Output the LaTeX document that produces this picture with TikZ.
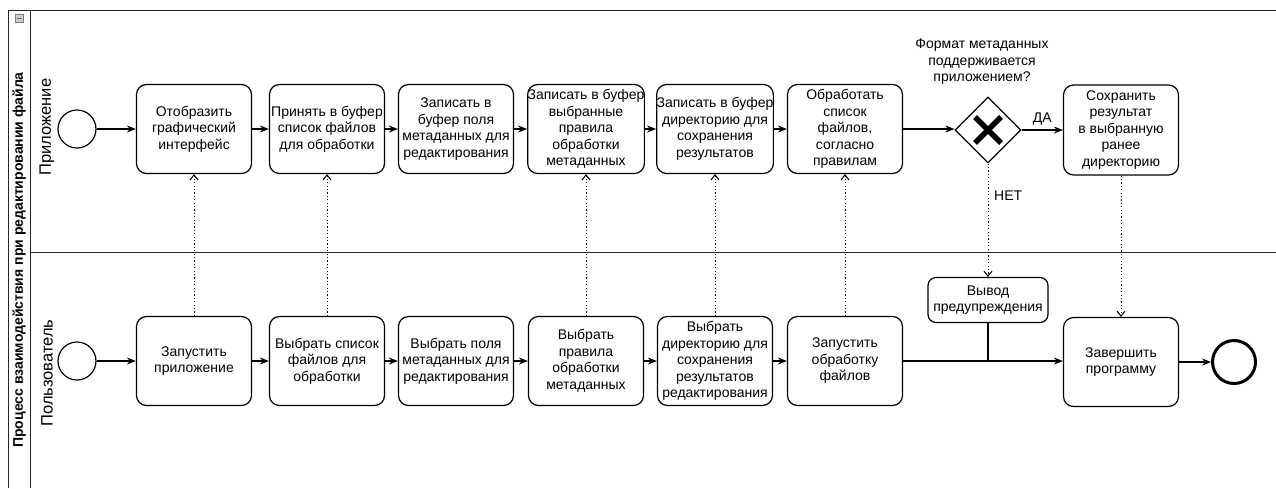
\documentclass[tikz,border=0pt]{standalone}
\usepackage{fontspec}
\setmainfont{Liberation Sans}
\usetikzlibrary{arrows.meta,shapes.geometric}
\begin{document}
\begin{tikzpicture}[x=1pt,y=-1pt,
  txt/.style={font=\fontsize{14}{16.5}\selectfont, align=center, inner sep=0pt},
  task/.style={txt, draw, line width=1.2pt, rounded corners=10pt, minimum width=115pt, minimum height=89pt},
  smalltask/.style={txt, draw, line width=1.2pt, rounded corners=8pt, minimum width=120pt, minimum height=45pt},
  startev/.style={draw, circle, line width=1.2pt, minimum size=38pt, inner sep=0pt},
  endev/.style={draw, circle, line width=3pt, minimum size=43pt, inner sep=0pt},
  gate/.style={draw, diamond, aspect=1, line width=1.2pt, minimum width=66pt, minimum height=66pt, inner sep=0pt},
  flow/.style={line width=1.2pt, -{Stealth[length=9pt,width=7pt]}},
  msg/.style={line width=1pt, dash pattern=on 1.2pt off 2.2pt, -{Straight Barb[length=5pt,width=8pt]}},
  lane/.style={line width=1pt, draw=black!85},
  lanelabel/.style={rotate=90, font=\fontsize{16.5}{19}\selectfont, inner sep=0pt},
]
\useasboundingbox (0,0) rectangle (1276,488);

% pool frame
\draw[lane] (8,488) -- (8,10) -- (1276,10);
\draw[lane] (30,10) -- (30,488);
\draw[lane] (30,252) -- (1276,252);
\node[draw=black!50, fill=black!20, minimum size=8pt, inner sep=0pt, line width=0.6pt] (icon) at (19,18) {};
\draw[black!60, line width=1pt] ([xshift=-2.5pt]icon.center) -- ([xshift=2.5pt]icon.center);
\node[rotate=90, font=\bfseries\fontsize{14}{16}\selectfont, inner sep=0pt] (pooltitle) at (19,260) {Процесс взаимодействия при редактировании файла};
\node[lanelabel] (lane1) at (47,127) {Приложение};
\node[lanelabel] (lane2) at (47,373) {Пользователь};

% top lane
\node[startev] (s1) at (77,129) {};
\node[task] (t1) at (194,129) {Отобразить\\графический\\интерфейс};
\node[task] (t2) at (327,129) {Принять в буфер\\список файлов\\для обработки};
\node[task] (t3) at (456,129) {Записать в\\буфер поля\\метаданных для\\редактирования};
\node[task] (t4) at (586,129) {Записать в буфер\\выбранные\\правила\\обработки\\метаданных};
\node[task] (t5) at (715,129) {Записать в буфер\\директорию для\\сохранения\\результатов};
\node[task] (t6) at (845,129) {Обработать\\список\\файлов,\\согласно\\правилам};
\node[gate] (gw) at (988,130) {};
\draw[line width=5.5pt] ([shift={(-13,-13)}]gw.center) -- ([shift={(13,13)}]gw.center);
\draw[line width=5.5pt] ([shift={(-13,13)}]gw.center) -- ([shift={(13,-13)}]gw.center);
\node[txt] (q) at (982,62) {Формат метаданных\\поддерживается\\приложением?};
\node[task, minimum height=90pt] (t7) at (1121,130) {Сохранить\\результат\\в выбранную\\ранее\\директорию};

% bottom lane
\node[startev] (s2) at (77,361) {};
\node[task] (b1) at (194,361) {Запустить\\приложение};
\node[task] (b2) at (327,361) {Выбрать список\\файлов для\\обработки};
\node[task] (b3) at (456,361) {Выбрать поля\\метаданных для\\редактирования};
\node[task] (b4) at (586,361) {Выбрать\\правила\\обработки\\метаданных};
\node[task] (b5) at (715,361) {Выбрать\\директорию для\\сохранения\\результатов\\редактирования};
\node[task] (b6) at (845,361) {Запустить\\обработку\\файлов};
\node[smalltask] (warn) at (988,300) {Вывод\\предупреждения};
\node[task] (fin) at (1121,362) {Завершить\\программу};
\node[endev] (e) at (1234,362) {};

% sequence flows
\draw[flow] (s1) -- (t1);
\draw[flow] (t1) -- (t2);
\draw[flow] (t2) -- (t3);
\draw[flow] (t3) -- (t4);
\draw[flow] (t4) -- (t5);
\draw[flow] (t5) -- (t6);
\draw[flow] (t6.east) -- (t6.east -| gw.west);
\draw[flow] (gw.east) -- (gw.east -| t7.west) node[midway, above=4pt, txt] (da) {ДА};
\draw[flow] (s2) -- (b1);
\draw[flow] (b1) -- (b2);
\draw[flow] (b2) -- (b3);
\draw[flow] (b3) -- (b4);
\draw[flow] (b4) -- (b5);
\draw[flow] (b5) -- (b6);
\draw[flow] (b6.east) -- (b6.east -| fin.west);
\draw[line width=1.2pt] (warn.south) -- (warn.south |- b6.east);
\draw[flow] (fin) -- (e);

% message flows
\draw[msg] (b1.north) -- (t1.south);
\draw[msg] (b2.north) -- (t2.south);
\draw[msg] (b4.north) -- (t4.south);
\draw[msg] (b5.north) -- (t5.south);
\draw[msg] (b6.north) -- (t6.south);
\draw[msg] (t7.south) -- (fin.north);
\draw[msg] (gw.south) -- (warn.north);
\node[txt, anchor=west] (net) at (994,196) {НЕТ};
\end{tikzpicture}
\end{document}
